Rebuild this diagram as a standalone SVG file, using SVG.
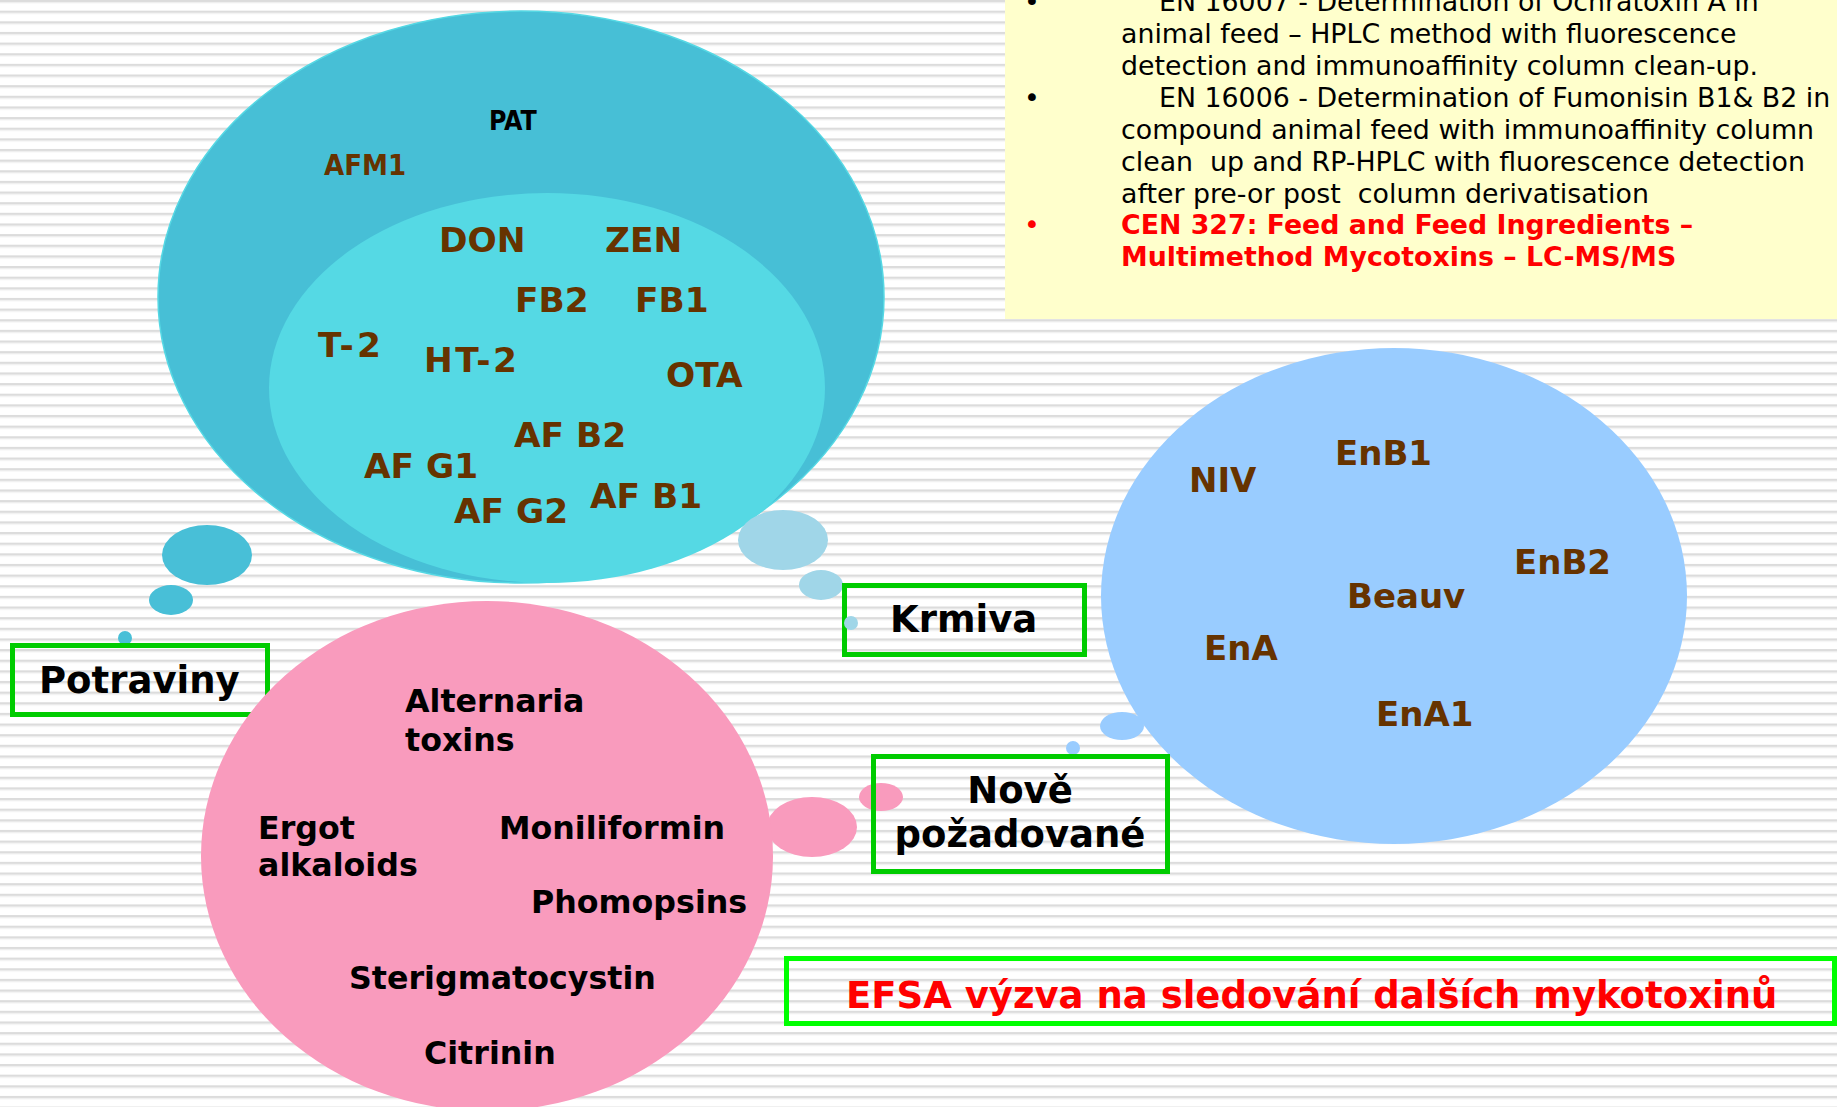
<svg xmlns="http://www.w3.org/2000/svg" width="1837" height="1107" viewBox="0 0 1837 1107">
<defs>
<pattern id="stripes" x="0" y="0" width="40" height="10.64" patternUnits="userSpaceOnUse">
<rect x="0" y="0" width="40" height="10.64" fill="#ffffff"/>
<rect x="0" y="-0.3" width="40" height="2.4" fill="#dcdcdc"/>
<rect x="0" y="2.1" width="40" height="1.1" fill="#ececec"/>
</pattern>
</defs>
<style>
.t{font-family:"DejaVu Sans",Verdana,sans-serif;font-weight:bold}
.brown{fill:#663300}
.blk{fill:#000000}
.tc{font-size:34.4px}
.pk{font-size:31.7px}
.bl{font-size:34px}
.lab{font-size:37px}
.box{fill:none;stroke:#00cc00;stroke-width:5}
.yt{font-family:"DejaVu Sans",Verdana,sans-serif;font-size:26.8px;fill:#000000;white-space:pre}
.rt{font-family:"DejaVu Sans",Verdana,sans-serif;font-size:26.8px;font-weight:bold;fill:#ff0000;white-space:pre}
.cond{font-family:"DejaVu Sans Condensed","DejaVu Sans",sans-serif;font-weight:bold}
</style>
<rect x="0" y="0" width="1837" height="1107" fill="url(#stripes)"/>

<g id="standards">
<rect x="1005" y="0" width="832" height="319" fill="#ffffcc"/>
<text class="yt" x="1024" y="11">•</text>
<text class="yt" x="1159" y="11">EN 16007 - Determination of Ochratoxin A in</text>
<text class="yt" x="1121" y="43">animal feed – HPLC method with fluorescence</text>
<text class="yt" x="1121" y="75">detection and immunoaffinity column clean-up.</text>
<text class="yt" x="1024" y="107">•</text>
<text class="yt" x="1159" y="107">EN 16006 - Determination of Fumonisin B1&amp; B2 in</text>
<text class="yt" x="1121" y="139">compound animal feed with immunoaffinity column</text>
<text class="yt" x="1121" y="171">clean  up and RP-HPLC with fluorescence detection</text>
<text class="yt" x="1121" y="203">after pre-or post  column derivatisation</text>
<text class="rt" x="1024" y="234" style="font-weight:normal">•</text>
<text class="rt" x="1121" y="234">CEN 327: Feed and Feed Ingredients –</text>
<text class="rt" x="1121" y="266">Multimethod Mycotoxins – LC-MS/MS</text>
</g>

<g id="connectors">
<ellipse cx="207" cy="555" rx="45" ry="30" fill="#48bfd7"/>
<ellipse cx="171" cy="600" rx="22" ry="15" fill="#48bfd7"/>
<circle cx="125" cy="638" r="7" fill="#48bfd7"/>
<ellipse cx="1122" cy="726" rx="22" ry="14" fill="#99ccff"/>
<circle cx="1073" cy="748" r="7" fill="#99ccff"/>
</g>

<g id="food-feed">
<ellipse cx="521" cy="297" rx="363" ry="286" fill="#47bfd6" stroke="#55d8e4" stroke-width="1.5"/>
<ellipse cx="547" cy="388" rx="278" ry="195" fill="#55d9e4"/>
<text class="cond blk" x="489" y="130" style="font-size:26.5px">PAT</text>
<text class="cond brown" x="324" y="175" style="font-size:29px">AFM1</text>
<text class="t brown tc" x="439" y="252">DON</text>
<text class="t brown tc" x="605" y="252">ZEN</text>
<text class="t brown tc" x="515" y="312">FB2</text>
<text class="t brown tc" x="635" y="312">FB1</text>
<text class="t brown tc" x="318" y="357" textLength="63" lengthAdjust="spacing">T-2</text>
<text class="t brown tc" x="424" y="372" textLength="93" lengthAdjust="spacing">HT-2</text>
<text class="t brown tc" x="666" y="387">OTA</text>
<text class="t brown tc" x="514" y="447">AF B2</text>
<text class="t brown tc" x="364" y="478">AF G1</text>
<text class="t brown tc" x="454" y="523">AF G2</text>
<text class="t brown tc" x="590" y="508">AF B1</text>
</g>

<g id="krmiva-bubbles">
<ellipse cx="783" cy="540" rx="45" ry="30" fill="#a0d6e8"/>
<ellipse cx="821" cy="585" rx="22" ry="15" fill="#a0d6e8"/>
</g>

<g id="potraviny">
<rect class="box" x="12.5" y="645.5" width="255" height="69"/>
<text class="t blk lab" x="39" y="693">Potraviny</text>
</g>

<g id="krmiva">
<rect class="box" x="844.5" y="585.5" width="240" height="69"/>
<circle cx="851" cy="623" r="7" fill="#a0d6e8"/>
<text class="t blk lab" x="890" y="632">Krmiva</text>
</g>

<g id="new-bubbles">
<ellipse cx="812" cy="827" rx="45" ry="30" fill="#f99bbd"/>
<ellipse cx="881" cy="797" rx="22" ry="14" fill="#f99bbd"/>
</g>

<g id="new-required">
<ellipse cx="487" cy="856" rx="286" ry="255" fill="#f99bbd"/>
<text class="t blk pk" x="405" y="712">Alternaria</text>
<text class="t blk pk" x="405" y="751">toxins</text>
<text class="t blk pk" x="258" y="839">Ergot</text>
<text class="t blk pk" x="258" y="876">alkaloids</text>
<text class="t blk pk" x="499" y="839">Moniliformin</text>
<text class="t blk pk" x="531" y="913">Phomopsins</text>
<text class="t blk pk" x="349" y="989">Sterigmatocystin</text>
<text class="t blk pk" x="424" y="1064">Citrinin</text>
</g>

<g id="enniatins">
<ellipse cx="1394" cy="596" rx="293" ry="248" fill="#99ccff"/>
<text class="t brown bl" x="1335" y="465">EnB1</text>
<text class="t brown bl" x="1189" y="492">NIV</text>
<text class="t brown bl" x="1514" y="574">EnB2</text>
<text class="t brown bl" x="1347" y="608">Beauv</text>
<text class="t brown bl" x="1204" y="660">EnA</text>
<text class="t brown bl" x="1376" y="726">EnA1</text>
</g>

<g id="nove">
<rect class="box" x="873.5" y="756.5" width="294" height="115"/>
<text class="t blk lab" x="1020" y="803" text-anchor="middle">Nově</text>
<text class="t blk lab" x="1020" y="847" text-anchor="middle">požadované</text>
</g>

<g id="efsa">
<rect x="786.5" y="958.5" width="1048" height="65" fill="none" stroke="#00ff00" stroke-width="5"/>
<text class="t lab" x="846" y="1008" fill="#ff0000">EFSA výzva na sledování dalších mykotoxinů</text>
</g>
</svg>
